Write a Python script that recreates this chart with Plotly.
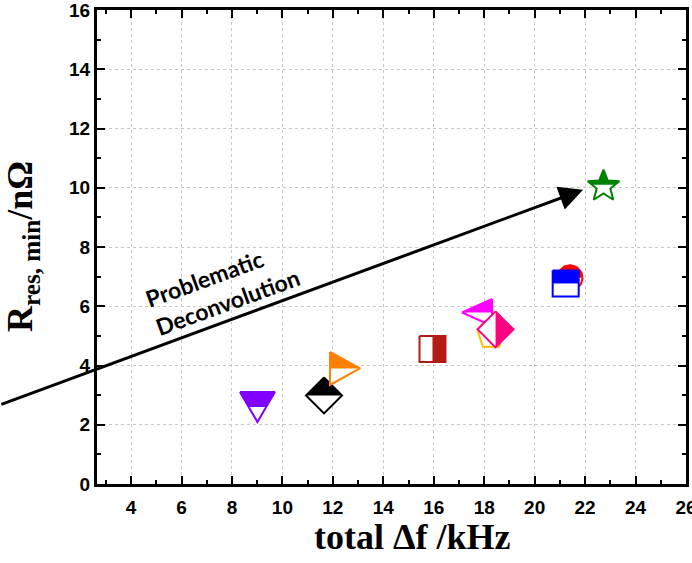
import math
import plotly.graph_objects as go

# ---- data ----
delta_f = [9.01, 11.65, 12.48, 15.95, 17.72, 18.27, 18.45, 21.40, 21.23, 22.73]
r_res = [2.60, 2.99, 3.90, 4.56, 5.79, 5.05, 5.22, 6.96, 6.77, 10.10]
symbols = ["tri_down", "diamond", "tri_right", "square", "tri_left",
           "pentagon", "diamond", "circle", "square", "star"]
halves = ["top", "top", "top", "right", "top", "none", "right", "top", "top", "top"]
colors = ["#8000FF", "#000000", "#FF8000", "#B31B14", "#FF00FF",
          "#FFC000", "#FF0080", "#FF0000", "#0000FF", "#008000"]
x_ticks = [4, 6, 8, 10, 12, 14, 16, 18, 20, 22, 24, 26]
y_ticks = [0, 2, 4, 6, 8, 10, 12, 14, 16]
arrow_tail = (-1.2, 2.67)
arrow_head = (21.92, 9.93)

# ---- layout geometry ----
W, H = 692, 563
ML, MR, MT, MB = 97, 6, 10, 79
XR = [2.65, 26]
YR = [0, 16]
PXX = (W - ML - MR) / (XR[1] - XR[0])
PXY = (H - MT - MB) / (YR[1] - YR[0])


def shape_px(kind):
    if kind == "tri_down":
        return [(-17.5, 15), (17.5, 15), (0, -15)]
    if kind == "diamond":
        return [(0, 18), (18, 0), (0, -18), (-18, 0)]
    if kind == "tri_right":
        return [(-15, 16.5), (15, 0), (-15, -16.5)]
    if kind == "tri_left":
        return [(15, 13.5), (-15, 0), (15, -13.5)]
    if kind == "square":
        return [(-13, 13), (13, 13), (13, -13), (-13, -13)]
    if kind == "pentagon":
        R = 13.8
        return [(R * math.cos(math.radians(90 + 72 * i)), R * math.sin(math.radians(90 + 72 * i)) - 1.3)
                for i in range(5)]
    if kind == "circle":
        R = 12.5
        return [(R * math.cos(2 * math.pi * i / 48), R * math.sin(2 * math.pi * i / 48)) for i in range(48)]
    if kind == "star":
        R, r = 16.6, 7.2
        pts = []
        for i in range(10):
            rad = R if i % 2 == 0 else r
            a = math.radians(90 + 36 * i)
            pts.append((rad * math.cos(a), rad * math.sin(a) - 1.5))
        return pts
    return []


def clip(poly, half):
    if half == "none":
        return []
    def inside(p):
        return p[1] >= 0 if half == "top" else p[0] >= 0
    def inter(p, q):
        if half == "top":
            t = p[1] / (p[1] - q[1])
        else:
            t = p[0] / (p[0] - q[0])
        return (p[0] + t * (q[0] - p[0]), p[1] + t * (q[1] - p[1]))
    out = []
    n = len(poly)
    for i in range(n):
        cur, prev = poly[i], poly[i - 1]
        if inside(cur):
            if not inside(prev):
                out.append(inter(prev, cur))
            out.append(cur)
        elif inside(prev):
            out.append(inter(prev, cur))
    return out


def to_data(poly, cx, cy):
    xs = [cx + px / PXX for px, _ in poly]
    ys = [cy + py / PXY for _, py in poly]
    if xs:
        xs.append(xs[0])
        ys.append(ys[0])
    return xs, ys


fig = go.Figure()
for x, y, sym, half, col in zip(delta_f, r_res, symbols, halves, colors):
    full = shape_px(sym)
    fx, fy = to_data(full, x, y)
    fig.add_trace(go.Scatter(x=fx, y=fy, mode="lines", fill="toself", fillcolor="white",
                             line=dict(width=0, color="white"), hoverinfo="skip", showlegend=False))
    hp = clip(full, half)
    if hp:
        hx, hy = to_data(hp, x, y)
        fig.add_trace(go.Scatter(x=hx, y=hy, mode="lines", fill="toself", fillcolor=col,
                                 line=dict(width=0, color=col), hoverinfo="skip", showlegend=False))
    fig.add_trace(go.Scatter(x=fx, y=fy, mode="lines", line=dict(width=2, color=col),
                             hoverinfo="skip", showlegend=False))

axis_common = dict(
    showline=True, linewidth=3, linecolor="black", mirror="allticks",
    ticks="inside", ticklen=8, tickwidth=2, tickcolor="black",
    showgrid=True, gridcolor="#c8c8c8", griddash="3px,3px", gridwidth=1,
    zeroline=False, ticklabeloverflow="allow", automargin=False,
    tickfont=dict(family="Liberation Sans", size=19, color="black", weight="bold"),
)

fig.update_xaxes(range=XR, tickvals=x_ticks, ticklabelstandoff=4,
                 minor=dict(ticks="inside", ticklen=4, tickwidth=2, tickcolor="black",
                            dtick=1, tick0=0, showgrid=False),
                 **axis_common)
fig.update_yaxes(range=YR, tickvals=y_ticks,
                 minor=dict(ticks="inside", ticklen=4, tickwidth=2, tickcolor="black",
                            dtick=1, tick0=0, showgrid=False),
                 **axis_common)

fig.add_annotation(x=arrow_head[0], y=arrow_head[1], ax=arrow_tail[0], ay=arrow_tail[1],
                   xref="x", yref="y", axref="x", ayref="y", text="",
                   showarrow=True, arrowhead=2, arrowsize=1.6, arrowwidth=3, arrowcolor="black")

fig.add_annotation(x=7.61, y=6.62, xref="x", yref="y", text="Problematic<br>Deconvolution",
                   showarrow=False, textangle=-20, align="left",
                   font=dict(family="Lato", size=23, color="black", weight="bold"))

fig.add_annotation(x=(412 - ML) / (W - ML - MR), y=(484 - 537) / (H - MT - MB),
                   xref="paper", yref="paper", text="total Δf /kHz", showarrow=False,
                   xanchor="center", yanchor="middle",
                   font=dict(family="Liberation Serif", size=36, color="black", weight="bold"))

fig.add_annotation(x=(22 - ML) / (W - ML - MR), y=0.5, xref="paper", yref="paper",
                   text="R<sub>res, min</sub>/nΩ", showarrow=False, textangle=-90,
                   xanchor="center", yanchor="middle",
                   font=dict(family="Liberation Serif", size=36, color="black", weight="bold"))

fig.update_layout(width=W, height=H, margin=dict(l=ML, r=MR, t=MT, b=MB, autoexpand=False),
                  plot_bgcolor="white", paper_bgcolor="white")

fig.write_html("out.html")
